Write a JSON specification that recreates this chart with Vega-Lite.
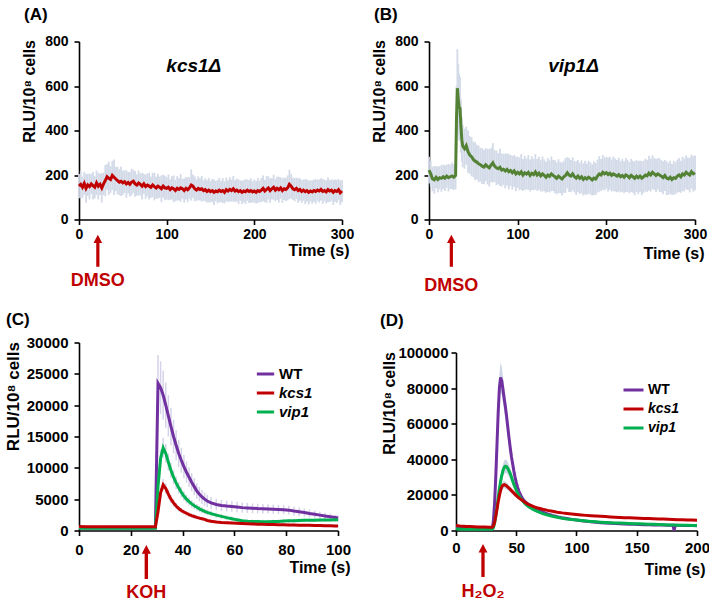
{
"$schema":"https://vega.github.io/schema/vega-lite/v6.json",
"background":"white",
"padding":{"left":3,"top":5.5,"right":2,"bottom":2},
"config":{"view":{"stroke":null},"font":"Liberation Sans",
"axis":{"grid":false,"domainColor":"#000","domainWidth":1.6,"tickColor":"#000","tickWidth":1.6,"tickSize":5,"labelFont":"Liberation Sans","labelFontWeight":"bold","labelFontSize":14,"labelColor":"#000","titleFont":"Liberation Sans","titleFontWeight":"bold","titleColor":"#000","titleFontSize":16,"labelFlush":false,"format":"d"},
"title":{"font":"Liberation Sans","fontWeight":"bold","fontSize":17,"color":"#000","anchor":"start","frame":"group","baseline":"bottom"}},
"datasets":{
"A":[{"t":0,"m":150,"e":55},{"t":2,"m":158,"e":60},{"t":4,"m":145,"e":48},{"t":6,"m":162,"e":52},{"t":8,"m":140,"e":65},{"t":10,"m":155,"e":50},{"t":12,"m":148,"e":58},{"t":14,"m":160,"e":45},{"t":16,"m":152,"e":62},{"t":18,"m":145,"e":50},{"t":20,"m":165,"e":55},{"t":22,"m":150,"e":60},{"t":24,"m":158,"e":48},{"t":26,"m":142,"e":66},{"t":28,"m":160,"e":50},{"t":30,"m":175,"e":70},{"t":32,"m":192,"e":58},{"t":34,"m":185,"e":75},{"t":36,"m":180,"e":60},{"t":38,"m":198,"e":65},{"t":40,"m":190,"e":80},{"t":42,"m":182,"e":55},{"t":44,"m":175,"e":62},{"t":46,"m":168,"e":58},{"t":48,"m":172,"e":66},{"t":50,"m":165,"e":55},{"t":52,"m":170,"e":50},{"t":54,"m":160,"e":62},{"t":56,"m":166,"e":48},{"t":58,"m":158,"e":55},{"t":60,"m":168,"e":60},{"t":62,"m":172,"e":52},{"t":64,"m":160,"e":58},{"t":66,"m":155,"e":48},{"t":68,"m":164,"e":56},{"t":70,"m":158,"e":50},{"t":72,"m":150,"e":60},{"t":74,"m":160,"e":45},{"t":76,"m":148,"e":55},{"t":78,"m":155,"e":52},{"t":80,"m":150,"e":60},{"t":82,"m":145,"e":48},{"t":84,"m":155,"e":55},{"t":86,"m":148,"e":62},{"t":88,"m":142,"e":50},{"t":90,"m":150,"e":56},{"t":92,"m":145,"e":48},{"t":94,"m":138,"e":60},{"t":96,"m":150,"e":52},{"t":98,"m":142,"e":55},{"t":100,"m":140,"e":50},{"t":102,"m":145,"e":58},{"t":104,"m":135,"e":46},{"t":106,"m":142,"e":52},{"t":108,"m":138,"e":60},{"t":110,"m":130,"e":48},{"t":112,"m":140,"e":55},{"t":114,"m":135,"e":50},{"t":116,"m":142,"e":62},{"t":118,"m":138,"e":45},{"t":120,"m":130,"e":54},{"t":122,"m":140,"e":50},{"t":124,"m":134,"e":56},{"t":126,"m":142,"e":48},{"t":128,"m":155,"e":70},{"t":130,"m":150,"e":52},{"t":132,"m":138,"e":56},{"t":134,"m":132,"e":48},{"t":136,"m":140,"e":54},{"t":138,"m":135,"e":50},{"t":140,"m":138,"e":58},{"t":142,"m":130,"e":46},{"t":144,"m":134,"e":52},{"t":146,"m":126,"e":50},{"t":148,"m":132,"e":55},{"t":150,"m":125,"e":48},{"t":152,"m":130,"e":52},{"t":154,"m":122,"e":58},{"t":156,"m":128,"e":45},{"t":158,"m":125,"e":52},{"t":160,"m":132,"e":55},{"t":162,"m":126,"e":48},{"t":164,"m":130,"e":56},{"t":166,"m":122,"e":50},{"t":168,"m":134,"e":54},{"t":170,"m":128,"e":48},{"t":172,"m":135,"e":55},{"t":174,"m":130,"e":50},{"t":176,"m":138,"e":58},{"t":178,"m":128,"e":48},{"t":180,"m":132,"e":52},{"t":182,"m":125,"e":55},{"t":184,"m":130,"e":46},{"t":186,"m":122,"e":52},{"t":188,"m":128,"e":50},{"t":190,"m":125,"e":56},{"t":192,"m":132,"e":48},{"t":194,"m":126,"e":52},{"t":196,"m":130,"e":55},{"t":198,"m":124,"e":48},{"t":200,"m":128,"e":52},{"t":202,"m":122,"e":50},{"t":204,"m":130,"e":56},{"t":206,"m":126,"e":48},{"t":208,"m":132,"e":54},{"t":210,"m":140,"e":58},{"t":212,"m":128,"e":50},{"t":214,"m":135,"e":60},{"t":216,"m":142,"e":52},{"t":218,"m":130,"e":55},{"t":220,"m":138,"e":48},{"t":222,"m":145,"e":56},{"t":224,"m":132,"e":50},{"t":226,"m":140,"e":52},{"t":228,"m":134,"e":58},{"t":230,"m":142,"e":48},{"t":232,"m":130,"e":55},{"t":234,"m":138,"e":50},{"t":236,"m":135,"e":52},{"t":238,"m":142,"e":56},{"t":240,"m":158,"e":66},{"t":242,"m":150,"e":55},{"t":244,"m":138,"e":50},{"t":246,"m":134,"e":52},{"t":248,"m":140,"e":48},{"t":250,"m":130,"e":55},{"t":252,"m":135,"e":50},{"t":254,"m":126,"e":52},{"t":256,"m":132,"e":48},{"t":258,"m":125,"e":56},{"t":260,"m":130,"e":50},{"t":262,"m":122,"e":54},{"t":264,"m":128,"e":48},{"t":266,"m":124,"e":52},{"t":268,"m":130,"e":50},{"t":270,"m":126,"e":55},{"t":272,"m":132,"e":48},{"t":274,"m":128,"e":52},{"t":276,"m":135,"e":50},{"t":278,"m":126,"e":56},{"t":280,"m":130,"e":48},{"t":282,"m":124,"e":52},{"t":284,"m":134,"e":55},{"t":286,"m":128,"e":50},{"t":288,"m":132,"e":48},{"t":290,"m":122,"e":56},{"t":292,"m":130,"e":50},{"t":294,"m":126,"e":52},{"t":296,"m":134,"e":48},{"t":298,"m":120,"e":55},{"t":300,"m":128,"e":50}],
"B":[{"t":0,"m":222,"e":60},{"t":2,"m":205,"e":58},{"t":4,"m":182,"e":55},{"t":6,"m":178,"e":62},{"t":8,"m":190,"e":50},{"t":10,"m":180,"e":58},{"t":12,"m":188,"e":52},{"t":14,"m":185,"e":60},{"t":16,"m":192,"e":55},{"t":18,"m":186,"e":58},{"t":20,"m":195,"e":52},{"t":22,"m":188,"e":62},{"t":24,"m":192,"e":55},{"t":26,"m":196,"e":60},{"t":28,"m":190,"e":58},{"t":30,"m":198,"e":62},{"t":31,"m":450,"e":150},{"t":32,"m":590,"e":175},{"t":33,"m":540,"e":160},{"t":34,"m":505,"e":150},{"t":35,"m":500,"e":140},{"t":36,"m":420,"e":120},{"t":37,"m":360,"e":100},{"t":38,"m":330,"e":95},{"t":40,"m":318,"e":90},{"t":42,"m":332,"e":85},{"t":44,"m":305,"e":95},{"t":46,"m":290,"e":85},{"t":48,"m":282,"e":88},{"t":50,"m":270,"e":80},{"t":52,"m":262,"e":85},{"t":54,"m":258,"e":78},{"t":56,"m":250,"e":82},{"t":58,"m":246,"e":76},{"t":60,"m":240,"e":80},{"t":62,"m":236,"e":78},{"t":64,"m":246,"e":74},{"t":66,"m":238,"e":80},{"t":68,"m":232,"e":84},{"t":70,"m":245,"e":78},{"t":72,"m":255,"e":88},{"t":74,"m":240,"e":72},{"t":76,"m":232,"e":78},{"t":78,"m":228,"e":70},{"t":80,"m":235,"e":84},{"t":82,"m":222,"e":74},{"t":84,"m":226,"e":70},{"t":86,"m":218,"e":78},{"t":88,"m":225,"e":72},{"t":90,"m":215,"e":80},{"t":92,"m":220,"e":70},{"t":94,"m":210,"e":76},{"t":96,"m":218,"e":72},{"t":98,"m":205,"e":78},{"t":100,"m":212,"e":70},{"t":102,"m":205,"e":74},{"t":104,"m":214,"e":80},{"t":106,"m":200,"e":72},{"t":108,"m":210,"e":76},{"t":110,"m":204,"e":70},{"t":112,"m":212,"e":78},{"t":114,"m":198,"e":72},{"t":116,"m":208,"e":76},{"t":118,"m":202,"e":70},{"t":120,"m":214,"e":80},{"t":122,"m":200,"e":72},{"t":124,"m":208,"e":74},{"t":126,"m":196,"e":70},{"t":128,"m":205,"e":78},{"t":130,"m":198,"e":72},{"t":132,"m":190,"e":70},{"t":134,"m":200,"e":76},{"t":136,"m":194,"e":72},{"t":138,"m":205,"e":78},{"t":140,"m":198,"e":70},{"t":142,"m":192,"e":74},{"t":144,"m":185,"e":72},{"t":146,"m":195,"e":76},{"t":148,"m":188,"e":70},{"t":150,"m":182,"e":74},{"t":152,"m":192,"e":72},{"t":154,"m":198,"e":78},{"t":156,"m":210,"e":70},{"t":158,"m":200,"e":76},{"t":160,"m":195,"e":72},{"t":162,"m":205,"e":74},{"t":164,"m":192,"e":70},{"t":166,"m":186,"e":76},{"t":168,"m":195,"e":72},{"t":170,"m":185,"e":70},{"t":172,"m":192,"e":74},{"t":174,"m":180,"e":72},{"t":176,"m":188,"e":76},{"t":178,"m":182,"e":70},{"t":180,"m":190,"e":74},{"t":182,"m":185,"e":72},{"t":184,"m":178,"e":70},{"t":186,"m":186,"e":76},{"t":188,"m":182,"e":72},{"t":190,"m":195,"e":74},{"t":192,"m":205,"e":80},{"t":194,"m":200,"e":72},{"t":196,"m":212,"e":78},{"t":198,"m":205,"e":74},{"t":200,"m":210,"e":72},{"t":202,"m":202,"e":76},{"t":204,"m":208,"e":74},{"t":206,"m":198,"e":72},{"t":208,"m":205,"e":78},{"t":210,"m":200,"e":74},{"t":212,"m":195,"e":72},{"t":214,"m":202,"e":76},{"t":216,"m":192,"e":70},{"t":218,"m":198,"e":74},{"t":220,"m":190,"e":72},{"t":222,"m":200,"e":76},{"t":224,"m":196,"e":72},{"t":226,"m":188,"e":70},{"t":228,"m":198,"e":74},{"t":230,"m":192,"e":72},{"t":232,"m":185,"e":76},{"t":234,"m":195,"e":72},{"t":236,"m":188,"e":74},{"t":238,"m":195,"e":70},{"t":240,"m":186,"e":76},{"t":242,"m":192,"e":72},{"t":244,"m":200,"e":74},{"t":246,"m":196,"e":72},{"t":248,"m":208,"e":78},{"t":250,"m":200,"e":74},{"t":252,"m":212,"e":76},{"t":254,"m":205,"e":72},{"t":256,"m":198,"e":74},{"t":258,"m":205,"e":70},{"t":260,"m":200,"e":76},{"t":262,"m":195,"e":72},{"t":264,"m":188,"e":74},{"t":266,"m":198,"e":70},{"t":268,"m":186,"e":76},{"t":270,"m":182,"e":72},{"t":272,"m":190,"e":74},{"t":274,"m":180,"e":70},{"t":276,"m":188,"e":76},{"t":278,"m":185,"e":72},{"t":280,"m":195,"e":74},{"t":282,"m":200,"e":76},{"t":284,"m":192,"e":72},{"t":286,"m":205,"e":78},{"t":288,"m":200,"e":74},{"t":290,"m":212,"e":76},{"t":292,"m":205,"e":72},{"t":294,"m":200,"e":78},{"t":296,"m":215,"e":76},{"t":298,"m":205,"e":80},{"t":300,"m":210,"e":78}],
"C":[
{"s":"WT","t":0,"m":420,"e":130},{"s":"WT","t":3,"m":410,"e":130},{"s":"WT","t":6,"m":430,"e":130},{"s":"WT","t":9,"m":400,"e":130},{"s":"WT","t":12,"m":420,"e":130},{"s":"WT","t":15,"m":410,"e":130},{"s":"WT","t":18,"m":430,"e":130},{"s":"WT","t":21,"m":400,"e":130},{"s":"WT","t":24,"m":420,"e":130},{"s":"WT","t":27,"m":410,"e":130},{"s":"WT","t":29.5,"m":420,"e":130},{"s":"WT","t":30.5,"m":23500,"e":4500},{"s":"WT","t":31.5,"m":22800,"e":4200},{"s":"WT","t":32.5,"m":21600,"e":3900},{"s":"WT","t":33.5,"m":20000,"e":3600},{"s":"WT","t":34.5,"m":18300,"e":3300},{"s":"WT","t":35.5,"m":16600,"e":3000},{"s":"WT","t":36.5,"m":15000,"e":2700},{"s":"WT","t":37.5,"m":13600,"e":2400},{"s":"WT","t":38.5,"m":12300,"e":2200},{"s":"WT","t":39.5,"m":11200,"e":2000},{"s":"WT","t":40.5,"m":10200,"e":1850},{"s":"WT","t":41.5,"m":9300,"e":1700},{"s":"WT","t":42.5,"m":8500,"e":1550},{"s":"WT","t":43.5,"m":7700,"e":1450},{"s":"WT","t":44.5,"m":7000,"e":1350},{"s":"WT","t":45.5,"m":6300,"e":1250},{"s":"WT","t":46.5,"m":5800,"e":1150},{"s":"WT","t":47.5,"m":5350,"e":1100},{"s":"WT","t":48.5,"m":5000,"e":1050},{"s":"WT","t":49.5,"m":4700,"e":1000},{"s":"WT","t":51,"m":4400,"e":950},{"s":"WT","t":53,"m":4150,"e":900},{"s":"WT","t":55,"m":4000,"e":880},{"s":"WT","t":57,"m":3900,"e":860},{"s":"WT","t":59,"m":3820,"e":840},{"s":"WT","t":61,"m":3750,"e":820},{"s":"WT","t":63,"m":3650,"e":800},{"s":"WT","t":65,"m":3600,"e":790},{"s":"WT","t":67,"m":3550,"e":780},{"s":"WT","t":69,"m":3500,"e":770},{"s":"WT","t":71,"m":3480,"e":760},{"s":"WT","t":73,"m":3450,"e":750},{"s":"WT","t":75,"m":3400,"e":740},{"s":"WT","t":77,"m":3360,"e":730},{"s":"WT","t":79,"m":3320,"e":720},{"s":"WT","t":81,"m":3250,"e":700},{"s":"WT","t":83,"m":3100,"e":690},{"s":"WT","t":85,"m":3000,"e":670},{"s":"WT","t":87,"m":2880,"e":650},{"s":"WT","t":89,"m":2720,"e":620},{"s":"WT","t":91,"m":2600,"e":590},{"s":"WT","t":93,"m":2450,"e":560},{"s":"WT","t":95,"m":2300,"e":520},{"s":"WT","t":97,"m":2180,"e":480},{"s":"WT","t":99,"m":2060,"e":440},{"s":"WT","t":100,"m":2000,"e":420},
{"s":"vip1","t":0,"m":350,"e":120},{"s":"vip1","t":3,"m":340,"e":120},{"s":"vip1","t":6,"m":360,"e":120},{"s":"vip1","t":9,"m":345,"e":120},{"s":"vip1","t":12,"m":355,"e":120},{"s":"vip1","t":15,"m":350,"e":120},{"s":"vip1","t":18,"m":345,"e":120},{"s":"vip1","t":21,"m":360,"e":120},{"s":"vip1","t":24,"m":350,"e":120},{"s":"vip1","t":27,"m":345,"e":120},{"s":"vip1","t":29.5,"m":360,"e":120},{"s":"vip1","t":30.5,"m":7000,"e":1000},{"s":"vip1","t":31.5,"m":11500,"e":1400},{"s":"vip1","t":32.5,"m":13200,"e":1600},{"s":"vip1","t":33.5,"m":12300,"e":1500},{"s":"vip1","t":34.5,"m":10900,"e":1350},{"s":"vip1","t":35.5,"m":9600,"e":1200},{"s":"vip1","t":36.5,"m":8500,"e":1100},{"s":"vip1","t":37.5,"m":7600,"e":1000},{"s":"vip1","t":38.5,"m":6800,"e":900},{"s":"vip1","t":39.5,"m":6100,"e":820},{"s":"vip1","t":40.5,"m":5500,"e":750},{"s":"vip1","t":41.5,"m":5000,"e":700},{"s":"vip1","t":42.5,"m":4600,"e":650},{"s":"vip1","t":43.5,"m":4250,"e":600},{"s":"vip1","t":44.5,"m":3950,"e":560},{"s":"vip1","t":45.5,"m":3700,"e":530},{"s":"vip1","t":46.5,"m":3450,"e":500},{"s":"vip1","t":47.5,"m":3250,"e":480},{"s":"vip1","t":48.5,"m":3050,"e":460},{"s":"vip1","t":49.5,"m":2900,"e":440},{"s":"vip1","t":51,"m":2700,"e":420},{"s":"vip1","t":53,"m":2450,"e":400},{"s":"vip1","t":55,"m":2250,"e":380},{"s":"vip1","t":57,"m":2050,"e":360},{"s":"vip1","t":59,"m":1880,"e":340},{"s":"vip1","t":61,"m":1700,"e":320},{"s":"vip1","t":63,"m":1550,"e":300},{"s":"vip1","t":65,"m":1480,"e":300},{"s":"vip1","t":67,"m":1440,"e":300},{"s":"vip1","t":69,"m":1420,"e":300},{"s":"vip1","t":71,"m":1400,"e":300},{"s":"vip1","t":73,"m":1400,"e":300},{"s":"vip1","t":75,"m":1420,"e":300},{"s":"vip1","t":77,"m":1450,"e":300},{"s":"vip1","t":79,"m":1500,"e":300},{"s":"vip1","t":81,"m":1540,"e":300},{"s":"vip1","t":83,"m":1570,"e":300},{"s":"vip1","t":85,"m":1600,"e":300},{"s":"vip1","t":87,"m":1620,"e":300},{"s":"vip1","t":89,"m":1640,"e":300},{"s":"vip1","t":91,"m":1650,"e":300},{"s":"vip1","t":93,"m":1670,"e":300},{"s":"vip1","t":95,"m":1680,"e":300},{"s":"vip1","t":97,"m":1690,"e":300},{"s":"vip1","t":99,"m":1700,"e":300},{"s":"vip1","t":100,"m":1700,"e":300},
{"s":"kcs1","t":0,"m":620,"e":150},{"s":"kcs1","t":3,"m":600,"e":150},{"s":"kcs1","t":6,"m":610,"e":150},{"s":"kcs1","t":9,"m":590,"e":150},{"s":"kcs1","t":12,"m":600,"e":150},{"s":"kcs1","t":15,"m":610,"e":150},{"s":"kcs1","t":18,"m":600,"e":150},{"s":"kcs1","t":21,"m":590,"e":150},{"s":"kcs1","t":24,"m":600,"e":150},{"s":"kcs1","t":27,"m":610,"e":150},{"s":"kcs1","t":29.5,"m":600,"e":150},{"s":"kcs1","t":30.5,"m":3000,"e":500},{"s":"kcs1","t":31.5,"m":6000,"e":800},{"s":"kcs1","t":32.5,"m":7300,"e":900},{"s":"kcs1","t":33.5,"m":6700,"e":850},{"s":"kcs1","t":34.5,"m":5800,"e":750},{"s":"kcs1","t":35.5,"m":5000,"e":650},{"s":"kcs1","t":36.5,"m":4400,"e":580},{"s":"kcs1","t":37.5,"m":3900,"e":520},{"s":"kcs1","t":38.5,"m":3500,"e":470},{"s":"kcs1","t":39.5,"m":3200,"e":430},{"s":"kcs1","t":40.5,"m":2950,"e":400},{"s":"kcs1","t":41.5,"m":2750,"e":380},{"s":"kcs1","t":42.5,"m":2550,"e":360},{"s":"kcs1","t":43.5,"m":2380,"e":340},{"s":"kcs1","t":44.5,"m":2230,"e":320},{"s":"kcs1","t":45.5,"m":2100,"e":300},{"s":"kcs1","t":46.5,"m":1980,"e":290},{"s":"kcs1","t":47.5,"m":1870,"e":280},{"s":"kcs1","t":48.5,"m":1770,"e":270},{"s":"kcs1","t":49.5,"m":1600,"e":260},{"s":"kcs1","t":51,"m":1480,"e":250},{"s":"kcs1","t":53,"m":1370,"e":240},{"s":"kcs1","t":55,"m":1290,"e":230},{"s":"kcs1","t":57,"m":1230,"e":220},{"s":"kcs1","t":59,"m":1180,"e":220},{"s":"kcs1","t":61,"m":1140,"e":210},{"s":"kcs1","t":63,"m":1100,"e":210},{"s":"kcs1","t":65,"m":1070,"e":200},{"s":"kcs1","t":67,"m":1040,"e":200},{"s":"kcs1","t":69,"m":1010,"e":200},{"s":"kcs1","t":71,"m":990,"e":200},{"s":"kcs1","t":73,"m":970,"e":200},{"s":"kcs1","t":75,"m":950,"e":200},{"s":"kcs1","t":77,"m":930,"e":200},{"s":"kcs1","t":79,"m":910,"e":200},{"s":"kcs1","t":81,"m":890,"e":200},{"s":"kcs1","t":83,"m":870,"e":200},{"s":"kcs1","t":85,"m":855,"e":200},{"s":"kcs1","t":87,"m":840,"e":200},{"s":"kcs1","t":89,"m":820,"e":200},{"s":"kcs1","t":91,"m":800,"e":200},{"s":"kcs1","t":93,"m":780,"e":200},{"s":"kcs1","t":95,"m":760,"e":200},{"s":"kcs1","t":97,"m":740,"e":200},{"s":"kcs1","t":99,"m":720,"e":200},{"s":"kcs1","t":100,"m":700,"e":200}],
"D":[
{"s":"WT","t":0,"m":1200,"e":200},{"s":"WT","t":3,"m":1150,"e":200},{"s":"WT","t":6,"m":1100,"e":200},{"s":"WT","t":9,"m":1100,"e":200},{"s":"WT","t":12,"m":1050,"e":200},{"s":"WT","t":15,"m":1050,"e":200},{"s":"WT","t":18,"m":1000,"e":200},{"s":"WT","t":21,"m":1000,"e":200},{"s":"WT","t":24,"m":1000,"e":200},{"s":"WT","t":27,"m":1000,"e":200},{"s":"WT","t":30,"m":1000,"e":200},{"s":"WT","t":31,"m":5000,"e":600},{"s":"WT","t":32,"m":15000,"e":1500},{"s":"WT","t":33,"m":30000,"e":3000},{"s":"WT","t":34,"m":48000,"e":4500},{"s":"WT","t":35,"m":66000,"e":6000},{"s":"WT","t":36,"m":80000,"e":7500},{"s":"WT","t":37,"m":86000,"e":8500},{"s":"WT","t":38,"m":84000,"e":8000},{"s":"WT","t":39,"m":79000,"e":7500},{"s":"WT","t":40,"m":74000,"e":7000},{"s":"WT","t":41,"m":69500,"e":6500},{"s":"WT","t":42,"m":64000,"e":6000},{"s":"WT","t":43,"m":58000,"e":5500},{"s":"WT","t":44,"m":52000,"e":5000},{"s":"WT","t":45,"m":46500,"e":4500},{"s":"WT","t":46,"m":41500,"e":4000},{"s":"WT","t":47,"m":37500,"e":3600},{"s":"WT","t":48,"m":33500,"e":3200},{"s":"WT","t":49,"m":30000,"e":2800},{"s":"WT","t":50,"m":27000,"e":2500},{"s":"WT","t":51,"m":24500,"e":2200},{"s":"WT","t":52,"m":22500,"e":2000},{"s":"WT","t":53,"m":20800,"e":1800},{"s":"WT","t":54,"m":19400,"e":1700},{"s":"WT","t":55,"m":18200,"e":1600},{"s":"WT","t":56,"m":17200,"e":1500},{"s":"WT","t":57,"m":16400,"e":1400},{"s":"WT","t":58,"m":15800,"e":1300},{"s":"WT","t":59,"m":15200,"e":1200},{"s":"WT","t":60,"m":14700,"e":1150},{"s":"WT","t":64,"m":13000,"e":1000},{"s":"WT","t":68,"m":11500,"e":900},{"s":"WT","t":72,"m":10300,"e":800},{"s":"WT","t":76,"m":9300,"e":700},{"s":"WT","t":80,"m":8500,"e":650},{"s":"WT","t":84,"m":7800,"e":600},{"s":"WT","t":88,"m":7200,"e":550},{"s":"WT","t":92,"m":6700,"e":500},{"s":"WT","t":96,"m":6250,"e":480},{"s":"WT","t":100,"m":5850,"e":450},{"s":"WT","t":104,"m":5500,"e":420},{"s":"WT","t":108,"m":5200,"e":400},{"s":"WT","t":112,"m":4900,"e":380},{"s":"WT","t":116,"m":4650,"e":360},{"s":"WT","t":120,"m":4400,"e":340},{"s":"WT","t":124,"m":4200,"e":320},{"s":"WT","t":128,"m":4050,"e":300},{"s":"WT","t":132,"m":3900,"e":300},{"s":"WT","t":136,"m":3750,"e":300},{"s":"WT","t":140,"m":3650,"e":300},{"s":"WT","t":144,"m":3550,"e":300},{"s":"WT","t":148,"m":3450,"e":300},{"s":"WT","t":152,"m":3350,"e":300},{"s":"WT","t":156,"m":3280,"e":300},{"s":"WT","t":160,"m":3200,"e":300},{"s":"WT","t":164,"m":3150,"e":300},{"s":"WT","t":168,"m":3100,"e":300},{"s":"WT","t":172,"m":3050,"e":300},{"s":"WT","t":176,"m":3000,"e":300},{"s":"WT","t":180,"m":2950,"e":300},{"s":"WT","t":181,"m":0,"e":0},{"s":"WT","t":182,"m":2950,"e":300},{"s":"WT","t":184,"m":2900,"e":300},{"s":"WT","t":188,"m":2850,"e":300},{"s":"WT","t":192,"m":2800,"e":300},{"s":"WT","t":196,"m":2750,"e":300},{"s":"WT","t":200,"m":2700,"e":300},
{"s":"vip1","t":0,"m":800,"e":150},{"s":"vip1","t":3,"m":780,"e":150},{"s":"vip1","t":6,"m":760,"e":150},{"s":"vip1","t":9,"m":750,"e":150},{"s":"vip1","t":12,"m":740,"e":150},{"s":"vip1","t":15,"m":730,"e":150},{"s":"vip1","t":18,"m":720,"e":150},{"s":"vip1","t":21,"m":710,"e":150},{"s":"vip1","t":24,"m":700,"e":150},{"s":"vip1","t":27,"m":700,"e":150},{"s":"vip1","t":30,"m":700,"e":150},{"s":"vip1","t":31,"m":1500,"e":300},{"s":"vip1","t":32,"m":4000,"e":600},{"s":"vip1","t":33,"m":8000,"e":1000},{"s":"vip1","t":34,"m":13000,"e":1500},{"s":"vip1","t":35,"m":18500,"e":2000},{"s":"vip1","t":36,"m":23500,"e":2500},{"s":"vip1","t":37,"m":27500,"e":3000},{"s":"vip1","t":38,"m":31000,"e":3300},{"s":"vip1","t":39,"m":33800,"e":3500},{"s":"vip1","t":40,"m":35500,"e":3700},{"s":"vip1","t":41,"m":36100,"e":3800},{"s":"vip1","t":42,"m":35800,"e":3700},{"s":"vip1","t":43,"m":34800,"e":3500},{"s":"vip1","t":44,"m":33500,"e":3300},{"s":"vip1","t":45,"m":32000,"e":3100},{"s":"vip1","t":46,"m":30000,"e":2800},{"s":"vip1","t":47,"m":28000,"e":2600},{"s":"vip1","t":48,"m":26000,"e":2400},{"s":"vip1","t":49,"m":24300,"e":2200},{"s":"vip1","t":50,"m":22700,"e":2000},{"s":"vip1","t":51,"m":21200,"e":1800},{"s":"vip1","t":52,"m":19900,"e":1700},{"s":"vip1","t":53,"m":18800,"e":1600},{"s":"vip1","t":54,"m":17800,"e":1500},{"s":"vip1","t":55,"m":16900,"e":1400},{"s":"vip1","t":56,"m":16100,"e":1300},{"s":"vip1","t":57,"m":15400,"e":1200},{"s":"vip1","t":58,"m":14700,"e":1150},{"s":"vip1","t":59,"m":14100,"e":1100},{"s":"vip1","t":60,"m":13500,"e":1050},{"s":"vip1","t":64,"m":11900,"e":950},{"s":"vip1","t":68,"m":10600,"e":850},{"s":"vip1","t":72,"m":9500,"e":750},{"s":"vip1","t":76,"m":8700,"e":700},{"s":"vip1","t":80,"m":8000,"e":650},{"s":"vip1","t":84,"m":7400,"e":600},{"s":"vip1","t":88,"m":6900,"e":550},{"s":"vip1","t":92,"m":6500,"e":500},{"s":"vip1","t":96,"m":6200,"e":480},{"s":"vip1","t":100,"m":5900,"e":460},{"s":"vip1","t":104,"m":5600,"e":440},{"s":"vip1","t":108,"m":5350,"e":420},{"s":"vip1","t":112,"m":5100,"e":400},{"s":"vip1","t":116,"m":4900,"e":380},{"s":"vip1","t":120,"m":4700,"e":360},{"s":"vip1","t":124,"m":4550,"e":350},{"s":"vip1","t":128,"m":4400,"e":340},{"s":"vip1","t":132,"m":4250,"e":330},{"s":"vip1","t":136,"m":4150,"e":320},{"s":"vip1","t":140,"m":4050,"e":310},{"s":"vip1","t":144,"m":3950,"e":300},{"s":"vip1","t":148,"m":3850,"e":300},{"s":"vip1","t":152,"m":3750,"e":300},{"s":"vip1","t":156,"m":3650,"e":300},{"s":"vip1","t":160,"m":3550,"e":300},{"s":"vip1","t":164,"m":3450,"e":300},{"s":"vip1","t":168,"m":3350,"e":300},{"s":"vip1","t":172,"m":3250,"e":300},{"s":"vip1","t":176,"m":3150,"e":300},{"s":"vip1","t":180,"m":3100,"e":300},{"s":"vip1","t":184,"m":3000,"e":300},{"s":"vip1","t":188,"m":2950,"e":300},{"s":"vip1","t":192,"m":2900,"e":300},{"s":"vip1","t":196,"m":2850,"e":300},{"s":"vip1","t":200,"m":2800,"e":300},
{"s":"kcs1","t":0,"m":2800,"e":300},{"s":"kcs1","t":3,"m":2600,"e":300},{"s":"kcs1","t":6,"m":2450,"e":300},{"s":"kcs1","t":9,"m":2300,"e":300},{"s":"kcs1","t":12,"m":2200,"e":300},{"s":"kcs1","t":15,"m":2100,"e":300},{"s":"kcs1","t":18,"m":2000,"e":300},{"s":"kcs1","t":21,"m":1950,"e":300},{"s":"kcs1","t":24,"m":1900,"e":300},{"s":"kcs1","t":27,"m":1850,"e":300},{"s":"kcs1","t":30,"m":1850,"e":300},{"s":"kcs1","t":31,"m":2500,"e":400},{"s":"kcs1","t":32,"m":4500,"e":600},{"s":"kcs1","t":33,"m":8000,"e":900},{"s":"kcs1","t":34,"m":12000,"e":1200},{"s":"kcs1","t":35,"m":16000,"e":1500},{"s":"kcs1","t":36,"m":19500,"e":1700},{"s":"kcs1","t":37,"m":22500,"e":1900},{"s":"kcs1","t":38,"m":24500,"e":2000},{"s":"kcs1","t":39,"m":25500,"e":2000},{"s":"kcs1","t":40,"m":25800,"e":2000},{"s":"kcs1","t":41,"m":25500,"e":2000},{"s":"kcs1","t":42,"m":25000,"e":1900},{"s":"kcs1","t":43,"m":24400,"e":1800},{"s":"kcs1","t":44,"m":23800,"e":1700},{"s":"kcs1","t":45,"m":23100,"e":1600},{"s":"kcs1","t":46,"m":22400,"e":1500},{"s":"kcs1","t":47,"m":21700,"e":1400},{"s":"kcs1","t":48,"m":21000,"e":1300},{"s":"kcs1","t":49,"m":20300,"e":1200},{"s":"kcs1","t":50,"m":19600,"e":1100},{"s":"kcs1","t":51,"m":19000,"e":1000},{"s":"kcs1","t":52,"m":18400,"e":950},{"s":"kcs1","t":53,"m":17900,"e":900},{"s":"kcs1","t":54,"m":17400,"e":850},{"s":"kcs1","t":55,"m":16900,"e":800},{"s":"kcs1","t":56,"m":16400,"e":780},{"s":"kcs1","t":57,"m":16000,"e":760},{"s":"kcs1","t":58,"m":15500,"e":740},{"s":"kcs1","t":59,"m":15100,"e":720},{"s":"kcs1","t":60,"m":14700,"e":700},{"s":"kcs1","t":64,"m":13500,"e":650},{"s":"kcs1","t":68,"m":12600,"e":600},{"s":"kcs1","t":72,"m":11900,"e":560},{"s":"kcs1","t":76,"m":11300,"e":530},{"s":"kcs1","t":80,"m":10800,"e":500},{"s":"kcs1","t":84,"m":10300,"e":480},{"s":"kcs1","t":88,"m":9900,"e":460},{"s":"kcs1","t":92,"m":9600,"e":440},{"s":"kcs1","t":96,"m":9300,"e":420},{"s":"kcs1","t":100,"m":9000,"e":400},{"s":"kcs1","t":104,"m":8750,"e":390},{"s":"kcs1","t":108,"m":8500,"e":380},{"s":"kcs1","t":112,"m":8300,"e":370},{"s":"kcs1","t":116,"m":8100,"e":360},{"s":"kcs1","t":120,"m":7950,"e":350},{"s":"kcs1","t":124,"m":7800,"e":340},{"s":"kcs1","t":128,"m":7650,"e":330},{"s":"kcs1","t":132,"m":7500,"e":320},{"s":"kcs1","t":136,"m":7350,"e":310},{"s":"kcs1","t":140,"m":7200,"e":300},{"s":"kcs1","t":144,"m":7100,"e":300},{"s":"kcs1","t":148,"m":7000,"e":300},{"s":"kcs1","t":152,"m":6900,"e":300},{"s":"kcs1","t":156,"m":6800,"e":300},{"s":"kcs1","t":160,"m":6700,"e":300},{"s":"kcs1","t":164,"m":6600,"e":300},{"s":"kcs1","t":168,"m":6500,"e":300},{"s":"kcs1","t":172,"m":6400,"e":300},{"s":"kcs1","t":176,"m":6300,"e":300},{"s":"kcs1","t":180,"m":6200,"e":300},{"s":"kcs1","t":184,"m":6100,"e":300},{"s":"kcs1","t":188,"m":6000,"e":300},{"s":"kcs1","t":192,"m":5950,"e":300},{"s":"kcs1","t":196,"m":5850,"e":300},{"s":"kcs1","t":200,"m":5800,"e":300}]
},
"concat":[
{"width":263,"height":178,
"title":{"text":"(A)","dx":-55,"offset":11},
"data":{"name":"A"},
"encoding":{
"x":{"field":"t","type":"quantitative","scale":{"domain":[0,300],"nice":false,"zero":false},"axis":{"values":[0,100,200,300],"title":"Time (s)","titleX":270,"titleY":36,"titleAlign":"right","titleBaseline":"alphabetic","labelPadding":3}},
"y":{"field":"m","type":"quantitative","scale":{"domain":[0,800],"nice":false},"axis":{"values":[0,200,400,600,800],"title":"RLU/10⁸ cells","titleX":-49.5,"titleY":-2,"titleAlign":"right","titleAngle":-90,"titleBaseline":"middle","labelPadding":6}}},
"layer":[
{"mark":{"type":"errorbar","color":"#d3dae8","thickness":1.8},"encoding":{"yError":{"field":"e"}}},
{"mark":{"type":"line","color":"#c00000","strokeWidth":3}},
{"transform":[{"filter":"datum.t == 20"}],"mark":{"type":"point","shape":"M0,-1L0.27,-0.48L0.1,-0.48L0.1,1L-0.1,1L-0.1,-0.48L-0.27,-0.48Z","size":1024,"filled":true,"color":"#c00000","opacity":1,"strokeWidth":0},"encoding":{"x":{"datum":21.5,"type":"quantitative"},"y":{"datum":-140,"type":"quantitative"}}},
{"transform":[{"filter":"datum.t == 20"}],"mark":{"type":"text","color":"#c00000","fontSize":18,"fontWeight":"bold","baseline":"middle"},"encoding":{"x":{"datum":21.5,"type":"quantitative"},"y":{"datum":-278,"type":"quantitative"},"text":{"value":"DMSO"}}},
{"transform":[{"filter":"datum.t == 0"}],"mark":{"type":"text","fontSize":19,"fontWeight":"bold","fontStyle":"italic","color":"#000","baseline":"middle"},"encoding":{"x":{"datum":131,"type":"quantitative"},"y":{"datum":688,"type":"quantitative"},"text":{"value":"kcs1Δ"}}}
]},
{"width":266,"height":178,
"title":{"text":"(B)","dx":-55,"offset":11},
"data":{"name":"B"},
"encoding":{
"x":{"field":"t","type":"quantitative","scale":{"domain":[0,300],"nice":false,"zero":false},"axis":{"values":[0,100,200,300],"title":"Time (s)","titleX":275,"titleY":39,"titleAlign":"right","titleBaseline":"alphabetic","labelPadding":3}},
"y":{"field":"m","type":"quantitative","scale":{"domain":[0,800],"nice":false},"axis":{"values":[0,200,400,600,800],"title":"RLU/10⁸ cells","titleX":-49.5,"titleY":-2,"titleAlign":"right","titleAngle":-90,"titleBaseline":"middle","labelPadding":6}}},
"layer":[
{"mark":{"type":"errorbar","color":"#d3dae8","thickness":1.8},"encoding":{"yError":{"field":"e"}}},
{"mark":{"type":"line","color":"#548235","strokeWidth":3}},
{"transform":[{"filter":"datum.t == 24"}],"mark":{"type":"point","shape":"M0,-1L0.27,-0.48L0.1,-0.48L0.1,1L-0.1,1L-0.1,-0.48L-0.27,-0.48Z","size":1024,"filled":true,"color":"#c00000","opacity":1,"strokeWidth":0},"encoding":{"x":{"datum":25.2,"type":"quantitative"},"y":{"datum":-140,"type":"quantitative"}}},
{"transform":[{"filter":"datum.t == 24"}],"mark":{"type":"text","color":"#c00000","fontSize":18,"fontWeight":"bold","baseline":"middle"},"encoding":{"x":{"datum":25.2,"type":"quantitative"},"y":{"datum":-298,"type":"quantitative"},"text":{"value":"DMSO"}}},
{"transform":[{"filter":"datum.t == 0"}],"mark":{"type":"text","fontSize":19,"fontWeight":"bold","fontStyle":"italic","color":"#000","baseline":"middle"},"encoding":{"x":{"datum":163,"type":"quantitative"},"y":{"datum":688,"type":"quantitative"},"text":{"value":"vip1Δ"}}}
]},
{"width":263,"height":188,
"title":{"text":"(C)","dx":-73,"offset":7},
"data":{"name":"C"},
"encoding":{
"x":{"field":"t","type":"quantitative","scale":{"domain":[0,101.544],"nice":false,"zero":false},"axis":{"values":[0,20,40,60,80,100],"domainDash":[259,20],"title":"Time (s)","titleX":271,"titleY":42,"titleAlign":"right","titleBaseline":"alphabetic","labelPadding":7,"labelFontSize":15}},
"y":{"field":"m","type":"quantitative","scale":{"domain":[0,30000],"nice":false},"axis":{"values":[0,5000,10000,15000,20000,25000,30000],"title":"RLU/10⁸ cells","titleX":-66,"titleY":-1,"titleAlign":"right","titleAngle":-90,"titleBaseline":"middle","titleFontSize":17,"labelPadding":6,"labelFontSize":15}}},
"layer":[
{"mark":{"type":"errorbar","color":"#d6d2ea","thickness":1.5},"encoding":{"yError":{"field":"e"},"detail":{"field":"s"}}},
{"mark":{"type":"line","strokeWidth":3},"encoding":{"color":{"field":"s","type":"nominal","scale":{"domain":["WT","kcs1","vip1"],"range":["#7030a0","#c00000","#00b050"]},"legend":{"orient":"none","legendX":176,"legendY":21,"title":null,"symbolType":"stroke","symbolStrokeWidth":3,"symbolSize":300,"labelFont":"Liberation Sans","labelFontWeight":"bold","labelFontSize":15,"labelColor":"#000","labelOffset":3,"rowPadding":-5.5,"padding":0,"labelFontStyle":{"expr":"datum.label === 'WT' ? 'normal' : 'italic'"}}}}},
{"transform":[{"filter":"datum.t == 27 && datum.s == 'WT'"}],"mark":{"type":"point","shape":"M0,-1L0.27,-0.48L0.1,-0.48L0.1,1L-0.1,1L-0.1,-0.48L-0.27,-0.48Z","size":1156,"filled":true,"color":"#c00000","opacity":1,"strokeWidth":0},"encoding":{"x":{"datum":26,"type":"quantitative"},"y":{"datum":-5027,"type":"quantitative"}}},
{"transform":[{"filter":"datum.t == 27 && datum.s == 'WT'"}],"mark":{"type":"text","color":"#c00000","fontSize":18,"fontWeight":"bold","baseline":"middle"},"encoding":{"x":{"datum":26,"type":"quantitative"},"y":{"datum":-9974,"type":"quantitative"},"text":{"value":"KOH"}}}
]},
{"width":268,"height":188,
"title":{"text":"(D)","dx":-49,"offset":13},
"data":{"name":"D"},
"encoding":{
"x":{"field":"t","type":"quantitative","scale":{"domain":[-22.406,200],"nice":false,"zero":false},"axis":{"values":[0,50,100,150,200],"domainDash":[0,27,241,60],"title":"Time (s)","titleX":276,"titleY":43.5,"titleAlign":"right","titleBaseline":"alphabetic","labelPadding":5,"labelFontSize":15}},
"y":{"field":"m","type":"quantitative","scale":{"domain":[0,105618],"nice":false},"axis":{"values":[0,20000,40000,60000,80000,100000],"offset":-27,"domainDash":[178,40],"title":"RLU/10⁸ cells","titleX":-66.5,"titleY":9,"titleAlign":"right","titleAngle":-90,"titleBaseline":"middle","labelPadding":3,"labelFontSize":15}}},
"layer":[
{"mark":{"type":"errorband","color":"#b9c4db","opacity":0.7},"encoding":{"yError":{"field":"e"},"detail":{"field":"s"}}},
{"mark":{"type":"line","strokeWidth":3},"encoding":{"color":{"field":"s","type":"nominal","scale":{"domain":["WT","kcs1","vip1"],"range":["#7030a0","#c00000","#00b050"]},"legend":{"orient":"none","legendX":193,"legendY":36,"title":null,"symbolType":"stroke","symbolStrokeWidth":3,"symbolSize":400,"labelFont":"Liberation Sans","labelFontWeight":"bold","labelFontSize":14,"labelColor":"#000","labelOffset":3,"rowPadding":-3,"padding":0,"labelFontStyle":{"expr":"datum.label === 'WT' ? 'normal' : 'italic'"}}}}},
{"transform":[{"filter":"datum.t == 21 && datum.s == 'WT'"}],"mark":{"type":"point","shape":"M0,-1L0.27,-0.48L0.1,-0.48L0.1,1L-0.1,1L-0.1,-0.48L-0.27,-0.48Z","size":1089,"filled":true,"color":"#c00000","opacity":1,"strokeWidth":0},"encoding":{"x":{"datum":22.4,"type":"quantitative"},"y":{"datum":-16854,"type":"quantitative"}}},
{"transform":[{"filter":"datum.t == 21 && datum.s == 'WT'"}],"mark":{"type":"text","color":"#c00000","fontSize":18,"fontWeight":"bold","baseline":"middle"},"encoding":{"x":{"datum":22.4,"type":"quantitative"},"y":{"datum":-34551,"type":"quantitative"},"text":{"value":"H₂O₂"}}}
]}
],
"columns":2,"bounds":"flush","spacing":{"row":123,"column":87},
"resolve":{"scale":{"color":"independent"}}
}
